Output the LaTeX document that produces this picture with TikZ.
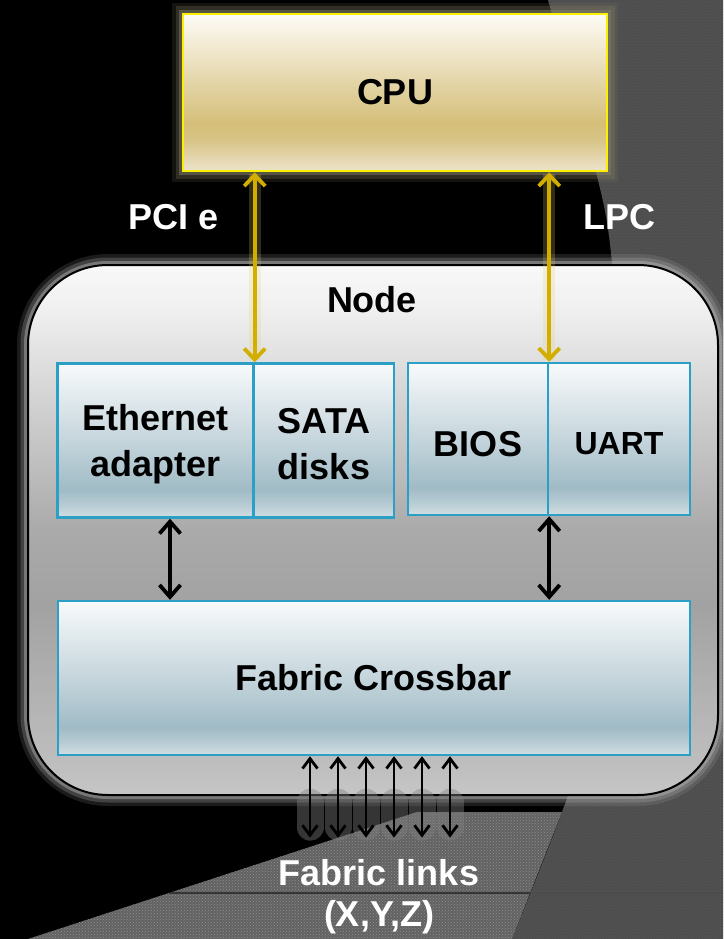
\documentclass[tikz,border=0pt]{standalone}
\usepackage{fontspec}
\setmainfont{Liberation Sans}
\usetikzlibrary{arrows.meta,patterns,calc}

\definecolor{bgdark}{HTML}{4E4E4E}
\definecolor{bgdarkdot}{HTML}{626262}
\definecolor{bglight}{HTML}{626262}
\definecolor{bglightdot}{HTML}{8E8E8E}
\definecolor{cpuyellow}{HTML}{FAF000}
\definecolor{cpuglow}{HTML}{8A8468}
\definecolor{nodeglow}{HTML}{B8B8B8}
\definecolor{arrowgold}{HTML}{D2AE00}
\definecolor{boxblue}{HTML}{2B9FC6}
\definecolor{cpuA}{HTML}{ECE3CB}
\definecolor{cpuB}{HTML}{D8C486}
\definecolor{cpuC}{HTML}{D4BE78}
\definecolor{cpuD}{HTML}{E6D8AE}
\definecolor{cpuE}{HTML}{FDFBF6}
\definecolor{ndA}{HTML}{C6C6C6}
\definecolor{ndB}{HTML}{BEBEBE}
\definecolor{ndC}{HTML}{A2A2A2}
\definecolor{ndD}{HTML}{AAAAAA}
\definecolor{ndE}{HTML}{D2D2D2}
\definecolor{ndF}{HTML}{F0F0F0}
\definecolor{ndG}{HTML}{F8F8F8}
\definecolor{blA}{HTML}{D2DEE2}
\definecolor{blB}{HTML}{B8CCD4}
\definecolor{blC}{HTML}{A0BBC6}
\definecolor{blD}{HTML}{C5D5DC}
\definecolor{blE}{HTML}{F8FAFB}

\pgfdeclareverticalshading{cpushade}{100bp}{color(0bp)=(cpuA); color(25bp)=(cpuA); color(35bp)=(cpuB); color(40bp)=(cpuC); color(55bp)=(cpuD); color(75bp)=(cpuE); color(100bp)=(cpuE)}
\pgfdeclareverticalshading{nodeshade}{100bp}{color(0bp)=(ndA); color(25bp)=(ndA); color(28bp)=(ndB); color(43bp)=(ndC); color(50bp)=(ndD); color(62bp)=(ndE); color(71bp)=(ndF); color(75bp)=(ndG); color(100bp)=(ndG)}
\pgfdeclareverticalshading{blueshade}{100bp}{color(0bp)=(blA); color(25bp)=(blA); color(29bp)=(blB); color(34bp)=(blC); color(50bp)=(blD); color(75bp)=(blE); color(100bp)=(blE)}

\tikzset{
  bigfont/.style={font=\fontsize{36}{46}\selectfont\bfseries},
  glow/.style={preaction={draw=#1, line width=22pt, opacity=0.15},
               preaction={draw=#1, line width=15pt, opacity=0.25},
               preaction={draw=#1, line width=8pt, opacity=0.45}},
  cpubox/.style={draw=cpuyellow, line width=2.6pt, shading=cpushade,
                 minimum width=424pt, minimum height=157pt, inner sep=0pt,
                 glow=cpuglow, bigfont, text=black},
  nodebox/.style={draw=black, line width=2pt, rounded corners=80pt, shading=nodeshade,
                  minimum width=690pt, minimum height=530pt, glow=nodeglow},
  bluebox/.style={draw=boxblue, line width=2.4pt, shading=blueshade, inner sep=0pt,
                  align=center, bigfont, text=black},
  btext/.style={bigfont, text=black, align=center, inner sep=0pt},
  wlabel/.style={bigfont, text=white, inner sep=2pt},
  blabel/.style={bigfont, text=black, inner sep=2pt},
  yarrow/.style={draw=arrowgold, line width=3.8pt,
                 {Straight Barb[length=11pt,width=21pt]}-{Straight Barb[length=11pt,width=21pt]}},
  yglow/.style={draw=arrowgold!60!white, line width=12pt, opacity=0.22},
  barrow/.style={draw=black, line width=3.8pt,
                 {Straight Barb[length=12pt,width=21pt]}-{Straight Barb[length=12pt,width=21pt]}},
  farrow/.style={draw=black, line width=2.8pt,
                 {Straight Barb[length=10pt,width=15pt]}-{Straight Barb[length=10pt,width=15pt]}},
  fglow/.style={draw=gray, line width=27pt, opacity=0.42, line cap=round},
}

\begin{document}
\begin{tikzpicture}[x=1pt, y=-1pt]
\useasboundingbox (0,0) rectangle (723,939);
\fill[black] (0,0) rectangle (723,939);

% background textured regions
\fill[bgdark, postaction={pattern=dots, pattern color=bgdarkdot}]
  plot[smooth] coordinates {(548,0) (598,180) (612,262) (628,450) (606,680) (562,812) (512,939)}
  -- (723,939) -- (723,0) -- cycle;
\fill[bglight, postaction={pattern=crosshatch dots, pattern color=bglightdot}]
  (28,939) -- (417,812) -- (562,812) -- (512,939) -- cycle;
\draw[line width=1.5pt, black!75!gray, opacity=0.7] (169,893) -- (530,893);
\draw[line width=1.2pt, black!40!gray, opacity=0.5] (530,893) -- (723,893);

% CPU
\node[cpubox] (cpu) at (395,92.5) {CPU};

% Node container
\node[nodebox] (nodebox) at (373,530) {};
\node[blabel] (nodelbl) at (372,300) {Node};

% inner blocks
\node[bluebox, minimum width=196pt, minimum height=154pt] (eth) at (155.5,440.5) {};
\node[btext] (ethtxt) at (155.5,444) {Ethernet\\adapter};
\node[bluebox, minimum width=140pt, minimum height=154pt] (sata) at (324,440.5) {};
\node[btext] (satatxt) at (324,444) {SATA\\disks};
\node[bluebox, minimum width=140pt, minimum height=152pt, text height=34pt, text depth=0pt] (bios) at (478,439) {BIOS};
\node[bluebox, minimum width=142pt, minimum height=152pt, text height=31pt, text depth=0pt, font=\fontsize{32}{38}\selectfont\bfseries] (uart) at (619,439) {UART};
\node[bluebox, minimum width=632pt, minimum height=154pt] (fab) at (374,678) {Fabric Crossbar};

% glow behind the fabric links
\foreach \dx in {-64,-36,-8,20,48,76} {
  \path ([xshift=\dx pt]fab.south) coordinate (g);
  \draw[fglow] ([yshift=-46pt]g) -- ([yshift=-71pt]g);
}

% labels
\node[wlabel] (pcie) at (174,217) {PCI e};
\node[wlabel] (lpc) at (619,217) {LPC};
\node[wlabel] (links) at (379,873) {Fabric links};
\node[wlabel] (xyz) at (379,917) {(X,Y,Z)};

% yellow bus arrows
\draw[yglow, shorten <=2pt, shorten >=2pt] (cpu.south -| eth.north east) -- (eth.north east);
\draw[yglow, shorten <=2pt, shorten >=2pt] (cpu.south -| bios.north east) -- (bios.north east);
\draw[yarrow] (cpu.south -| eth.north east) -- (eth.north east);
\draw[yarrow] (cpu.south -| bios.north east) -- (bios.north east);

% black internal arrows
\draw[barrow] ([xshift=14.5pt]eth.south) coordinate (e1) -- (e1 |- fab.north);
\draw[barrow] (bios.south east) -- (bios.south east |- fab.north);

% fabric links
\foreach \dx in {-64,-36,-8,20,48,76} {
  \path ([xshift=\dx pt]fab.south) coordinate (f);
  \draw[farrow, shorten >=20pt] (f) -- (f |- links.north);
}
\end{tikzpicture}
\end{document}
